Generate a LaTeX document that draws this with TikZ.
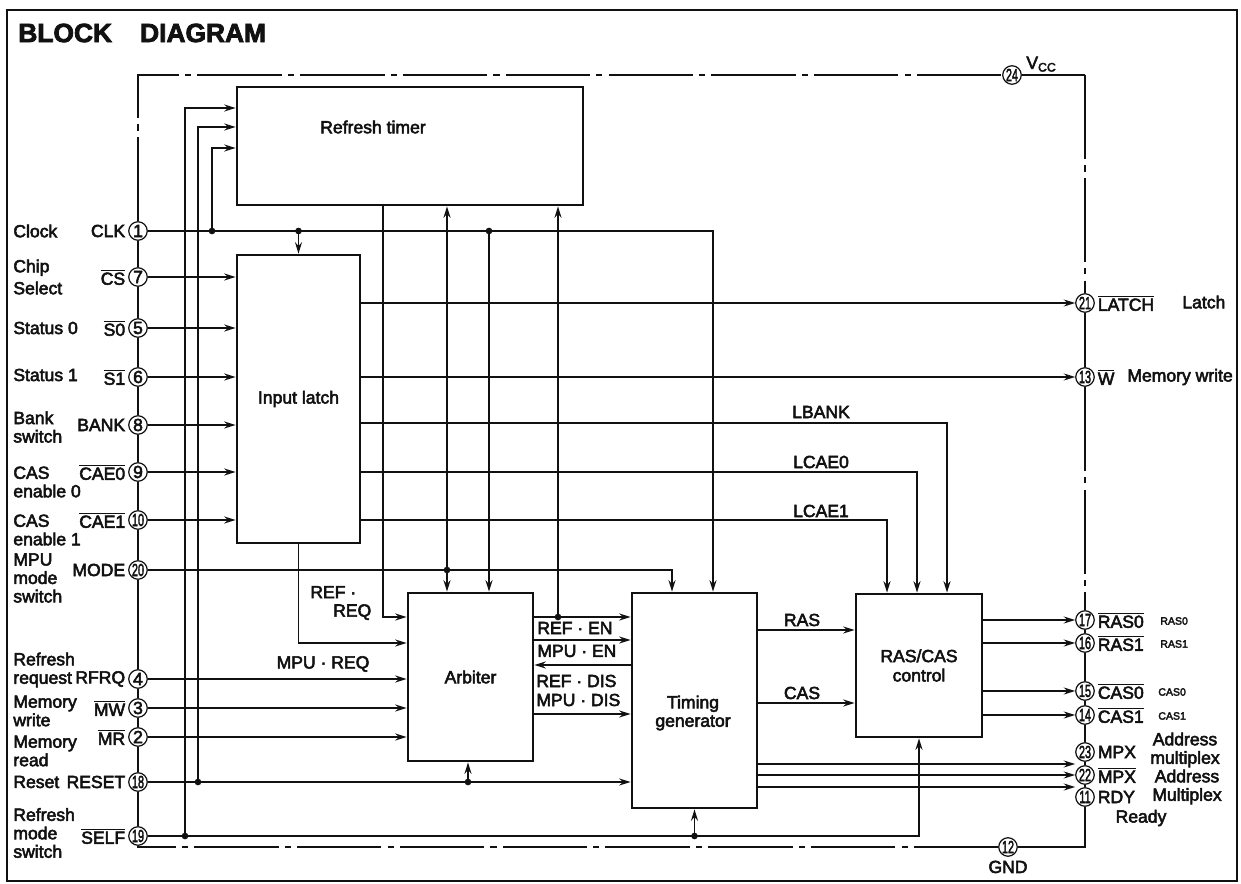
\documentclass[tikz,border=0pt]{standalone}
\usepackage{fontspec}
\setmainfont{Liberation Sans}[FakeBold=3]
\definecolor{ink}{HTML}{111111}
\usetikzlibrary{arrows.meta, positioning, calc}
\newcommand{\ovl}[1]{\ensuremath{\overline{\mbox{#1}}}}
\newcommand{\sq}[1]{\scalebox{0.62}[1]{#1}}
\tikzset{
  blk/.style={
    draw=ink, line width=1.6pt, inner sep=0pt,
    font=\fontsize{10}{11}\selectfont, text=ink, align=center
  },
  pinc/.style={
    draw=ink, circle, line width=0.7pt, inner sep=0pt,
    minimum size=0.37cm, font=\fontsize{10}{10}\selectfont, text=ink
  },
  lbl/.style={font=\fontsize{10}{10.5}\selectfont, text=ink, inner sep=0pt, align=left},
  small/.style={font=\fontsize{6}{6}\selectfont, text=ink, inner sep=0pt},
  arr/.style={-{Stealth[length=6.5pt,width=4pt]}, line width=0.75pt, draw=#1},
  arr/.default=ink,
  wire/.style={line width=0.75pt, draw=ink},
  pwr/.style={line width=0.75pt, draw=ink, dash pattern=on 48pt off 3.5pt on 3.5pt off 3.5pt},
  dot/.style={circle, fill=ink, inner sep=0pt, minimum size=3.8pt},
}
\begin{document}
\begin{tikzpicture}[x=0.02cm, y=-0.02cm]
  \useasboundingbox (0,0) rectangle (1241,884);
  \draw[ink, line width=1.6pt] (7,10) rectangle (1237,881);
  \node[anchor=west, inner sep=0pt, font=\fontsize{15}{15}\selectfont\bfseries, text=ink]
    (title) at (18,33) {BLOCK\hspace{16pt}DIAGRAM};

  \node[blk, minimum width=6.92cm, minimum height=2.36cm] (rt) at (410,146) {};
  \node[lbl] (rtl) at (373,127) {Refresh timer};
  \node[blk, minimum width=2.46cm, minimum height=5.76cm] (il) at (298.5,399) {Input latch};
  \node[blk, minimum width=2.5cm, minimum height=3.36cm] (arb) at (470.5,677) {Arbiter};
  \node[blk, minimum width=2.5cm, minimum height=4.3cm] (tg) at (694.5,700.5) {};
  \node[lbl, align=center] (tgl) at (693,713) {Timing\\generator};
  \node[blk, minimum width=2.52cm, minimum height=2.86cm] (rc) at (919,665.5) {RAS/CAS\\control};

  \foreach \n/\y in {1/231, 7/277, 5/328, 6/377, 8/425, 9/472, 4/679, 3/708, 2/737}
    \node[pinc] (p\n) at (138,\y) {\n};
  \foreach \n/\y in {10/520, 20/570, 18/782, 19/836}
    \node[pinc] (p\n) at (138,\y) {\sq{\n}};
  \foreach \n/\y in {21/303, 13/377, 17/620, 16/643, 15/691, 14/715, 23/752, 22/775, 11/797}
    \node[pinc] (p\n) at (1085,\y) {\sq{\n}};
  \node[pinc] (p24) at (1012,75) {\sq{24}};
  \node[pinc] (p12) at (1008,847) {\sq{12}};

  \node[lbl, anchor=south west] (vcc) at (1026,72) {V\raisebox{-0.3ex}{\fontsize{7}{7}\selectfont CC}};
  \node[lbl, below=2pt of p12] (gnd) {GND};

  \node[lbl, left=1.5pt of p1] {CLK};
  \node[lbl, left=1.5pt of p7] {\ovl{CS}};
  \node[lbl, left=1.5pt of p5] {\ovl{S0}};
  \node[lbl, left=1.5pt of p6] {\ovl{S1}};
  \node[lbl, left=1.5pt of p8] {BANK};
  \node[lbl, left=1.5pt of p9] {\ovl{CAE0}};
  \node[lbl, left=1.5pt of p10] {\ovl{CAE1}};
  \node[lbl, left=1.5pt of p20] {MODE};
  \node[lbl, left=1.5pt of p4] {RFRQ};
  \node[lbl, left=1.5pt of p3] {\ovl{MW}};
  \node[lbl, left=1.5pt of p2] {\ovl{MR}};
  \node[lbl, left=1.5pt of p18] {RESET};
  \node[lbl, left=1.5pt of p19] {\ovl{SELF}};

  \node[lbl, anchor=west] at (13,231) {Clock};
  \node[lbl, anchor=west] at (13,277) {Chip\\[2pt]Select};
  \node[lbl, anchor=west] at (13,328) {Status 0};
  \node[lbl, anchor=west] at (13,375) {Status 1};
  \node[lbl, anchor=west] at (13,427) {Bank\\switch};
  \node[lbl, anchor=west] at (13,482) {CAS\\enable 0};
  \node[lbl, anchor=west] at (13,530) {CAS\\enable 1};
  \node[lbl, anchor=west] at (13,578) {MPU\\mode\\switch};
  \node[lbl, anchor=west] at (13,670) {Refresh\\request};
  \node[lbl, anchor=west] at (13,711) {Memory\\write};
  \node[lbl, anchor=west] at (13,751) {Memory\\read};
  \node[lbl, anchor=west] at (13,782) {Reset};
  \node[lbl, anchor=west] at (13,833) {Refresh\\mode\\switch};

  \node[lbl, right=1.5pt of p21] {\ovl{LATCH}};
  \node[lbl, right=1.5pt of p13] {\ovl{W}};
  \node[lbl, right=1.5pt of p17] {\ovl{RAS0}};
  \node[lbl, right=1.5pt of p16] {\ovl{RAS1}};
  \node[lbl, right=1.5pt of p15] {\ovl{CAS0}};
  \node[lbl, right=1.5pt of p14] {\ovl{CAS1}};
  \node[lbl, right=1.5pt of p23] {MPX};
  \node[lbl, right=1.5pt of p22] {\ovl{MPX}};
  \node[lbl, right=1.5pt of p11] {RDY};

  \node[lbl, anchor=west] at (1182,302) {Latch};
  \node[lbl, anchor=west] at (1127,377) {Memory write};
  \node[small, anchor=west] at (1160,621) {RAS0};
  \node[small, anchor=west] at (1160,644) {RAS1};
  \node[small, anchor=west] at (1158,692) {CAS0};
  \node[small, anchor=west] at (1158,716) {CAS1};
  \node[lbl, align=center] at (1185,750) {Address\\multiplex};
  \node[lbl, align=center] at (1187,787) {Address\\Multiplex};
  \node[lbl] at (1141,818) {Ready};

  \coordinate (vtl) at (138,75);
  \coordinate (vtr) at (1085,75);
  \draw[pwr] (p1) -- (vtl) -- (p24);
  \draw[wire] (p24) -- (vtr);
  \draw[pwr] (vtr) -- (p21);
  \draw[pwr] (p21) -- (p13);
  \draw[pwr] (p13) -- (p17);
  \foreach \a/\b in {17/16, 16/15, 15/14, 14/23, 23/22, 22/11}
    \draw[wire] (p\a) -- (p\b);
  \draw[wire] (p11) |- (p12);
  \draw[pwr] (p12) -| (p19.south);
  \foreach \a/\b in {1/7, 7/5, 5/6, 6/8, 8/9, 9/10, 10/20, 20/4, 4/3, 3/2, 2/18, 18/19}
    \draw[wire] (p\a) -- (p\b);

  \foreach \n in {7,5,6,8,9,10}
    \draw[arr] (p\n) -- (p\n -| il.west);
  \foreach \n in {4,3,2}
    \draw[arr] (p\n) -- (p\n -| arb.west);

  \node[dot] (c1) at (212,231) {};
  \node[dot] (c2) at (298.5,231) {};
  \node[dot] (c3) at (489,231) {};
  \draw[arr] (p1) -| (tg.north -| 713,0);
  \draw[arr] (c1.center) |- (rt.west |- 0,148);
  \draw[arr] (c2.center) -- (il.north);
  \draw[arr] (c3.center) -- (arb.north -| c3);

  \node[dot] (r1) at (198,782) {};
  \node[dot] (r2) at (468,782) {};
  \draw[arr] (p18) -- (p18 -| tg.west);
  \draw[arr] (r1.center) |- (rt.west |- 0,127);
  \draw[arr] (r2.center) -- (arb.south -| r2);

  \node[dot] (s1) at (185,836) {};
  \node[dot] (s2) at (tg.south |- p19) {};
  \draw[arr] (p19) -| (rc.south);
  \draw[arr] (s1.center) |- (rt.west |- 0,108);
  \draw[arr] (s2.center) -- (tg.south);

  \node[dot] (m1) at (447,570) {};
  \draw[arr] (p20) -| (tg.north -| 672,0);
  \draw[arr] (m1.center) -- (rt.south -| m1);
  \draw[arr] (m1.center) -- (arb.north -| m1);

  \draw[arr] (rt.south -| 383,0) |- (arb.west |- 0,617);
  \draw[arr] (il.south) |- (arb.west |- 0,643);
  \node[lbl, anchor=west] at (310,603) {REF ·\\\hspace*{1.3em}REQ};
  \node[lbl] at (323,664) {MPU · REQ};

  \node[dot] (e1) at (558,617) {};
  \draw[arr] (arb.east |- 0,617) -- (tg.west |- 0,617);
  \draw[arr] (e1.center) -- (rt.south -| e1);
  \draw[arr] (arb.east |- 0,640) -- (tg.west |- 0,640);
  \draw[arr] (tg.west |- 0,665) -- (arb.east |- 0,665);
  \draw[arr] (arb.east |- 0,714) -- (tg.west |- 0,714);
  \node[lbl, anchor=west] at (537,628) {REF · EN};
  \node[lbl, anchor=west] at (537,651) {MPU · EN};
  \node[lbl, anchor=west] at (536,681) {REF · DIS};
  \node[lbl, anchor=west] at (536,700) {MPU · DIS};

  \draw[arr] (il.east |- p21) -- (p21);
  \draw[arr] (il.east |- p13) -- (p13);
  \draw[arr] (il.east |- 0,423) -| (rc.north -| 947,0);
  \draw[arr] (il.east |- 0,472) -| (rc.north -| 917,0);
  \draw[arr] (il.east |- 0,520) -| (rc.north -| 887,0);
  \node[lbl] at (821,412) {LBANK};
  \node[lbl] at (821,462) {LCAE0};
  \node[lbl] at (821,511) {LCAE1};

  \draw[arr] (tg.east |- 0,630) -- (rc.west |- 0,630);
  \draw[arr] (tg.east |- 0,703) -- (rc.west |- 0,703);
  \node[lbl] at (802,620) {RAS};
  \node[lbl] at (802,693) {CAS};
  \foreach \n in {17,16,15,14}
    \draw[arr] (rc.east |- p\n) -- (p\n);
  \draw[arr] (tg.east |- 0,764) -- (p23.west |- 0,764);
  \draw[arr] (tg.east |- p22) -- (p22);
  \draw[arr] (tg.east |- 0,787) -- (p11.west |- 0,787);
\end{tikzpicture}
\end{document}
